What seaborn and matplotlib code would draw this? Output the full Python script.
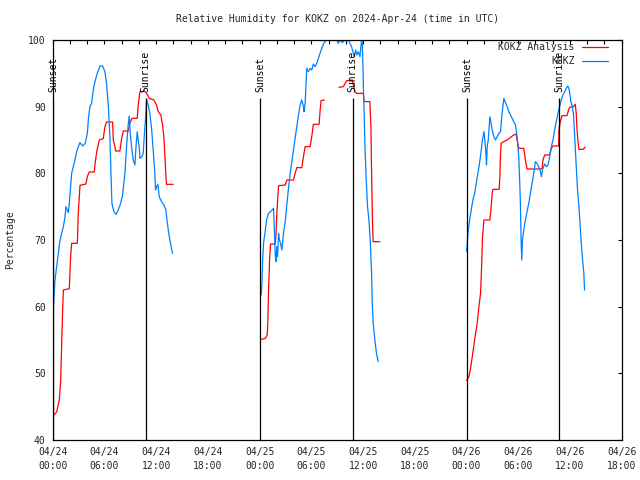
import pandas as pd
import matplotlib
matplotlib.use("Agg")
import matplotlib.pyplot as plt
import matplotlib.dates as mdates
import seaborn as sns

# hours after 00 UTC of each day, relative humidity (%)
day_starts = ["2024-04-24", "2024-04-25", "2024-04-26"]

anl_hours_1 = [0.15, 0.46, 0.77, 0.93, 1.04, 1.16, 1.24, 1.93, 2.08, 2.20, 2.86, 2.97, 3.17, 3.86,
               4.02, 4.25, 4.83, 4.90, 5.10, 5.41, 5.87, 6.06, 6.25, 6.95, 7.03, 7.22, 7.30, 7.80,
               7.99, 8.19, 8.76, 8.96, 9.19, 9.81, 9.92, 10.12, 10.69, 10.89, 11.20, 11.74, 12.05,
               12.24, 12.55, 12.74, 12.90, 13.01, 13.13, 13.20, 13.98]
anl_rh_1 = [43.75, 44.2, 46, 49, 54.2, 59.7, 62.5, 62.7, 67.5, 69.5, 69.5, 74, 78.2, 78.4,
            79.5, 80.2, 80.2, 81.2, 83.2, 85, 85.2, 87, 87.7, 87.7, 85, 84, 83.35, 83.35,
            85.2, 86.35, 86.35, 87.5, 88.25, 88.25, 90.25, 92.25, 92.3, 92, 91.25, 91, 90.25,
            89.25, 88.75, 87.25, 85.5, 82.75, 79.75, 78.35, 78.35]

anl_hours_2 = [0.19, 0.66, 0.89, 0.96, 1.04, 1.16, 1.27, 1.81, 1.89, 2.00, 2.12, 2.20, 2.97, 3.16,
               3.93, 4.12, 4.32, 4.89, 5.09, 5.28, 5.86, 6.05, 6.24, 6.90, 7.01, 7.13, 7.51]
anl_rh_2 = [55.1, 55.25, 55.75, 58, 62.5, 67, 69.4, 69.4, 70.5, 74, 76.5, 78.15, 78.25, 79,
            79, 80, 80.85, 80.85, 82.5, 84, 84, 85.5, 87.35, 87.35, 89.25, 90.9, 91]
anl_hours_2b = [9.21, 9.71, 10.10, 10.75, 11.06, 11.25, 12.02, 12.14, 12.79, 12.91, 12.99,
                13.10, 13.18, 13.95]
anl_rh_2b = [92.9, 93, 93.9, 94, 92.25, 92, 92, 90.75, 90.75, 87, 80, 72.5, 69.75, 69.75]

anl_hours_3 = [0.01, 0.28, 0.47, 0.67, 0.86, 1.05, 1.24, 1.44, 1.63, 1.75, 1.86, 2.02, 2.71, 2.86,
               2.98, 3.06, 3.79, 3.87, 3.94, 4.02, 4.33, 4.71, 5.10, 5.48, 5.75, 5.87, 6.06, 6.64,
               6.83, 7.02, 8.57, 8.76, 8.87, 9.07, 9.65, 9.80, 10.01, 10.69, 10.72, 10.88, 11.07,
               11.65, 11.84, 11.96, 12.42, 12.61, 12.73, 12.80, 12.88, 13.04, 13.50, 13.77]
anl_rh_3 = [48.9, 49.5, 50.75, 52.5, 54.25, 56, 57.5, 60, 62, 66, 70.5, 73, 73, 75,
            77, 77.6, 77.6, 79.5, 82.75, 84.5, 84.75, 85, 85.4, 85.75, 85.9, 85, 83.75, 83.75,
            82, 80.65, 80.65, 80.75, 82, 82.75, 82.75, 83.6, 84.1, 84.1, 86.5, 87.75, 88.65,
            88.65, 89.5, 89.9, 90, 90.35, 89, 87, 85.5, 83.6, 83.6, 83.9]

obs_hours_1 = [0.08, 0.27, 0.46, 0.66, 0.85, 1.04, 1.24, 1.43, 1.54, 1.81, 1.93, 2.08, 2.20, 2.39,
               2.59, 2.78, 2.97, 3.17, 3.47, 3.78, 4.02, 4.17, 4.32, 4.52, 4.71, 4.90, 5.17, 5.48,
               5.79, 6.06, 6.25, 6.45, 6.64, 6.76, 6.87, 7.10, 7.34, 7.61, 7.88, 8.11, 8.38, 8.57,
               8.76, 8.88, 9.00, 9.15, 9.34, 9.54, 9.65, 9.81, 9.92, 10.04, 10.12, 10.35, 10.50,
               10.62, 10.77, 10.89, 11.08, 11.27, 11.47, 11.66, 11.85, 11.93, 12.05, 12.20, 12.36,
               12.63, 12.90, 13.13, 13.28, 13.44, 13.59, 13.75, 13.90]
obs_rh_1 = [60, 64, 66, 68, 70, 71, 72, 73.5, 75, 74.1, 75.5, 78, 80, 81,
            82, 83.25, 84, 84.6, 84.1, 84.5, 86, 88.5, 90, 90.5, 92.5, 93.75, 95, 96.1,
            96.1, 95.25, 93.5, 90.25, 85.5, 80, 75.5, 74.25, 73.85, 74.5, 75.5, 76.75, 80, 84,
            87.25, 88.6, 86, 84, 82, 81.25, 83.75, 86.25, 85, 84, 82.25, 82.5, 83,
            85.5, 88.25, 91, 90.25, 89, 86.75, 83.5, 80, 77.5, 78, 78.35, 76.5,
            75.75, 75.25, 74.5, 72.75, 71.25, 70, 69, 68]

obs_hours_2 = [0.19, 0.27, 0.35, 0.46, 0.66, 0.85, 1.04, 1.35, 1.62, 1.70, 1.81, 1.89, 2.00, 2.08,
               2.20, 2.31, 2.43, 2.58, 2.77, 2.97, 3.16, 3.35, 3.55, 3.74, 3.93, 4.12, 4.32, 4.51,
               4.70, 4.89, 5.09, 5.16, 5.28, 5.36, 5.47, 5.66, 5.86, 6.05, 6.24, 6.44, 6.63, 6.82,
               7.01, 7.21, 7.48, 7.78, 8.94, 9.13, 9.33, 9.60, 9.90, 10.10, 10.29, 10.48, 10.67,
               10.87, 10.98, 11.14, 11.29, 11.45, 11.64, 11.75, 11.83, 11.91, 11.99, 12.06, 12.14,
               12.22, 12.37, 12.52, 12.68, 12.83, 12.99, 13.06, 13.18, 13.37, 13.56, 13.76]
obs_rh_2 = [61.75, 63.5, 67, 69.5, 71.5, 73.25, 74, 74.35, 74.75, 72, 68, 66.75, 69, 67.5,
            71, 70, 69.5, 68.5, 71, 72.75, 75.25, 77.75, 80, 81.75, 83.5, 85.25, 87, 88.75,
            90.25, 91, 90, 89.25, 90.5, 92.5, 95.75, 95.25, 95.75, 95.5, 96.4, 96, 96.5, 97.25,
            98, 98.75, 99.6, 100, 100, 99.5, 100, 99.6, 100, 99.75, 100, 99.5, 99,
            98, 97.5, 98.5, 97.75, 98.25, 97.5, 99, 100, 99.5, 96, 92, 88.5,
            84, 79, 75, 73, 70, 65, 61, 57.5, 55, 53, 51.75]

obs_hours_3 = [0.01, 0.17, 0.36, 0.55, 0.74, 0.94, 1.13, 1.32, 1.51, 1.71, 1.82, 2.02, 2.13, 2.25,
               2.32, 2.40, 2.52, 2.71, 2.82, 2.98, 3.17, 3.36, 3.56, 3.75, 3.94, 4.13, 4.33, 4.52,
               4.71, 4.91, 5.10, 5.29, 5.48, 5.68, 5.87, 6.06, 6.18, 6.25, 6.33, 6.41, 6.49, 6.64,
               6.83, 7.02, 7.22, 7.41, 7.60, 7.80, 7.99, 8.18, 8.37, 8.57, 8.68, 8.80, 8.95, 9.07,
               9.26, 9.46, 9.65, 9.84, 10.03, 10.22, 10.41, 10.61, 10.80, 10.99, 11.19, 11.38,
               11.57, 11.76, 11.92, 12.11, 12.27, 12.42, 12.57, 12.73, 12.88, 13.04, 13.19, 13.34,
               13.50, 13.61, 13.69]
obs_rh_3 = [68.25, 71, 73, 74.5, 76, 77, 78.5, 80, 81.5, 83.5, 84.75, 86.25, 85, 83,
            81.25, 84, 85, 88.5, 87.75, 86.5, 85.5, 85, 85.5, 86, 86.25, 89, 91.25, 90.6,
            90, 89.25, 88.75, 88.25, 87.75, 87.25, 85.5, 82.5, 78.5, 75.5, 70, 67, 70, 71.5,
            73, 74.25, 75.5, 77, 78.5, 80, 81.75, 81.5, 81, 80.25, 79.5, 80.5, 81, 81.4,
            81, 81.25, 82.5, 84, 85, 86.5, 87.75, 89, 90, 91, 91.75, 92.25,
            92.75, 93.1, 92.5, 90.75, 90, 88.75, 85, 81, 77.5, 75, 72, 69,
            66.5, 65, 62.5]

sunset_times = ["2024-04-24 00:02", "2024-04-25 00:03", "2024-04-26 00:04"]
sunrise_times = ["2024-04-24 10:48", "2024-04-25 10:47", "2024-04-26 10:44"]


def make_piece(series, unit, day, hours, rh):
    t = pd.Timestamp(day_starts[day]) + pd.to_timedelta(hours, unit="h")
    return pd.DataFrame({"time": t, "rh": rh, "series": series, "unit": unit})


pieces = [
    make_piece("KOKZ Analysis", 0, 0, anl_hours_1, anl_rh_1),
    make_piece("KOKZ Analysis", 1, 1, anl_hours_2, anl_rh_2),
    make_piece("KOKZ Analysis", 2, 1, anl_hours_2b, anl_rh_2b),
    make_piece("KOKZ Analysis", 3, 2, anl_hours_3, anl_rh_3),
    make_piece("KOKZ", 0, 0, obs_hours_1, obs_rh_1),
    make_piece("KOKZ", 1, 1, obs_hours_2, obs_rh_2),
    make_piece("KOKZ", 2, 2, obs_hours_3, obs_rh_3),
]
df = pd.concat(pieces, ignore_index=True)

sns.set_theme(style="white")
plt.rcParams["font.family"] = ["DejaVu Sans Mono"]
plt.rcParams["font.size"] = 7

fig = plt.figure(figsize=(6.4, 4.8), dpi=100)
ax = fig.add_axes([0.0823, 0.0833, 0.8891, 0.8334])

sns.lineplot(data=df, x="time", y="rh", hue="series", units="unit", estimator=None,
             palette={"KOKZ Analysis": "#ff0000", "KOKZ": "#0080ff"},
             linewidth=0.9, sort=False, ax=ax)

# sunset / sunrise markers
for times, name in [(sunset_times, "Sunset"), (sunrise_times, "Sunrise")]:
    tt = pd.to_datetime(times)
    ax.vlines(tt, 40, 91.3, color="black", linewidth=0.9, zorder=3)
    for t in tt:
        ax.text(t, 92.2, name, rotation=90, ha="center", va="bottom", fontsize=7, color="black")

ax.set_xlim(pd.Timestamp("2024-04-24 00:00"), pd.Timestamp("2024-04-26 18:00"))
ax.set_ylim(40, 100)
ax.set_yticks(range(40, 101, 10))
ax.xaxis.set_major_locator(mdates.HourLocator(byhour=[0, 6, 12, 18]))
ax.xaxis.set_minor_locator(mdates.HourLocator(interval=2))
ax.xaxis.set_major_formatter(mdates.DateFormatter("%m/%d\n%H:%M"))
ax.tick_params(axis="both", which="both", direction="in", top=True, right=True,
               length=3, width=0.8, color="black", labelsize=7, pad=5)
ax.tick_params(axis="x", which="minor", length=3)
for lab in ax.get_xticklabels():
    lab.set_linespacing(1.45)
for sp in ax.spines.values():
    sp.set_color("black")
    sp.set_linewidth(0.9)

ax.set_xlabel("")
ax.set_ylabel("Percentage", fontsize=7, labelpad=9)
ax.set_title("Relative Humidity for KOKZ on 2024-Apr-24 (time in UTC)", fontsize=7, pad=13)

# gnuplot-like key: text right-aligned, sample line after the text
sns.move_legend(ax, "upper right", title=None, frameon=False, markerfirst=False,
                fontsize=7, handlelength=2.7, handletextpad=0.7, labelspacing=0.45,
                borderpad=0.2, borderaxespad=0, bbox_to_anchor=(0.979, 1.0))
leg = ax.get_legend()
for col in leg._legend_handle_box.get_children():
    col.align = "right"

fig.savefig("out.png", dpi=100)
